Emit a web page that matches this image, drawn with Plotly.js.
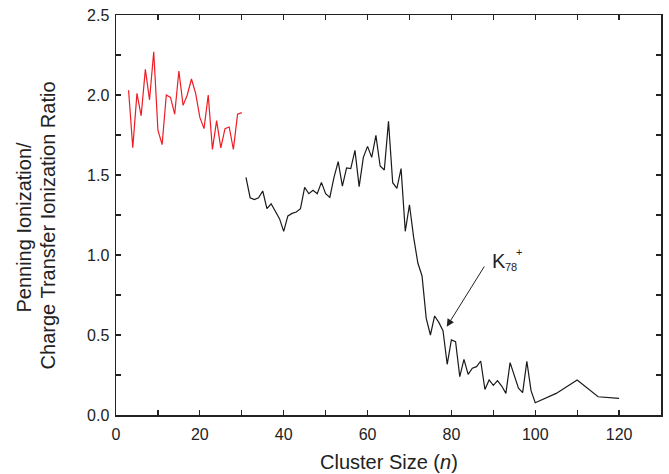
<!DOCTYPE html>
<html>
<head>
<meta charset="utf-8">
<script src="https://cdn.plot.ly/plotly-3.0.1.min.js"></script>
<style>html,body{margin:0;padding:0;background:#fff;}#chart{width:669px;height:474px;}</style>
</head>
<body>
<div id="chart"></div>
<script>
// Red series (small clusters)
var redSize = [3,4,5,6,7,8,9,10,11,12,13,14,15,16,17,18,19,20,21,22,23,24,25,26,27,28,29,30];
var redRatio = [2.03,1.67,2.01,1.87,2.16,1.97,2.27,1.78,1.69,2.00,1.985,1.88,2.15,1.935,2.00,2.10,2.01,1.86,1.79,2.00,1.66,1.84,1.67,1.79,1.80,1.66,1.88,1.89];

// Black series (larger clusters)
var blackSize = [31,32,33,34,35,36,37,38,39,40,41,42,43,44,45,46,47,48,49,50,
  51,52,53,54,55,56,57,58,59,60,61,62,63,64,65,66,67,68,69,70,
  71,72,73,74,75,76,77,78,79,80,81,82,83,84,85,86,87,88,89,90,
  91,92,93,94,95,96,97,98,99,100,105,110,115,120];
var blackRatio = [1.485,1.358,1.346,1.358,1.40,1.29,1.32,1.277,1.227,1.148,1.244,1.26,1.269,1.29,1.423,1.383,1.404,1.383,1.454,1.383,
  1.36,1.485,1.583,1.43,1.544,1.54,1.654,1.427,1.61,1.679,1.61,1.748,1.556,1.531,1.835,1.452,1.417,1.54,1.148,1.314,
  1.11,0.95,0.869,0.604,0.50,0.619,0.579,0.527,0.317,0.469,0.458,0.24,0.348,0.254,0.292,0.302,0.3375,0.16,0.219,0.185,
  0.215,0.181,0.135,0.327,0.24,0.167,0.14,0.335,0.152,0.077,0.135,0.219,0.114,0.104];

var xTicks = [0,20,40,60,80,100,120];
var yTicks = [0.0,0.5,1.0,1.5,2.0,2.5];

var FONT = 'Arial, "Liberation Sans", Helvetica, sans-serif';
var INK = '#222';

var traces = [
  {x: redSize, y: redRatio, type: 'scatter', mode: 'lines',
   line: {color: '#ee1c24', width: 1.2}, hoverinfo: 'x+y'},
  {x: blackSize, y: blackRatio, type: 'scatter', mode: 'lines',
   line: {color: '#1a1a1a', width: 1.2}, hoverinfo: 'x+y'}
];

var axisCommon = {
  showgrid: false, zeroline: false,
  showline: true, linecolor: INK, linewidth: 1.5, mirror: 'ticks',
  ticks: 'inside', ticklen: 5, tickwidth: 1.2, tickcolor: INK,
  tickfont: {family: FONT, size: 16, color: INK}
};

var layout = {
  width: 669, height: 474,
  margin: {l: 116, r: 8, t: 15, b: 59},
  paper_bgcolor: '#fff', plot_bgcolor: '#fff',
  showlegend: false,
  font: {family: FONT, color: INK},
  xaxis: Object.assign({}, axisCommon, {
    range: [0, 130], tickmode: 'array', tickvals: xTicks,
    ticktext: xTicks.map(String), ticklabelstandoff: 4,
    minor: {dtick: 10, ticks: 'inside', ticklen: 5, tickwidth: 1.2, tickcolor: INK}
  }),
  yaxis: Object.assign({}, axisCommon, {
    range: [0, 2.5], tickmode: 'array', tickvals: yTicks,
    ticktext: yTicks.map(function(v){return v.toFixed(1);}), ticklabelstandoff: 2,
    minor: {dtick: 0.25, ticks: 'inside', ticklen: 5, tickwidth: 1.2, tickcolor: INK}
  }),
  annotations: [
    {xref: 'paper', yref: 'paper', x: 0.5, y: -0.1175, xanchor: 'center', yanchor: 'middle',
     text: 'Cluster Size (<i>n</i>)', showarrow: false, font: {family: FONT, size: 20, color: INK}},
    {xref: 'paper', yref: 'paper', x: -0.1689, y: 0.471, xanchor: 'center', yanchor: 'middle',
     textangle: -90, text: 'Penning Ionization/', showarrow: false, font: {family: FONT, size: 20, color: INK}},
    {xref: 'paper', yref: 'paper', x: -0.1248, y: 0.474, xanchor: 'center', yanchor: 'middle',
     textangle: -90, text: 'Charge Transfer Ionization Ratio', showarrow: false, font: {family: FONT, size: 20, color: INK}},
    {xref: 'x', yref: 'y', x: 78.9, y: 0.552, axref: 'x', ayref: 'y', ax: 88.07, ay: 0.9375,
     text: '', showarrow: true, arrowhead: 2, arrowsize: 1.5, arrowwidth: 1, arrowcolor: INK},
    {xref: 'x', yref: 'y', x: 89.14, y: 0.9625, xanchor: 'left', yanchor: 'middle',
     text: 'K', showarrow: false, font: {family: FONT, size: 20, color: INK}},
    {xref: 'x', yref: 'y', x: 92.4, y: 0.925, xanchor: 'left', yanchor: 'middle',
     text: '78', showarrow: false, font: {family: FONT, size: 11, color: INK}},
    {xref: 'x', yref: 'y', x: 96.2, y: 1.016, xanchor: 'center', yanchor: 'middle',
     text: '+', showarrow: false, font: {family: FONT, size: 11, color: INK}}
  ]
};

Plotly.newPlot('chart', traces, layout, {displayModeBar: false, staticPlot: true});
</script>
</body>
</html>
